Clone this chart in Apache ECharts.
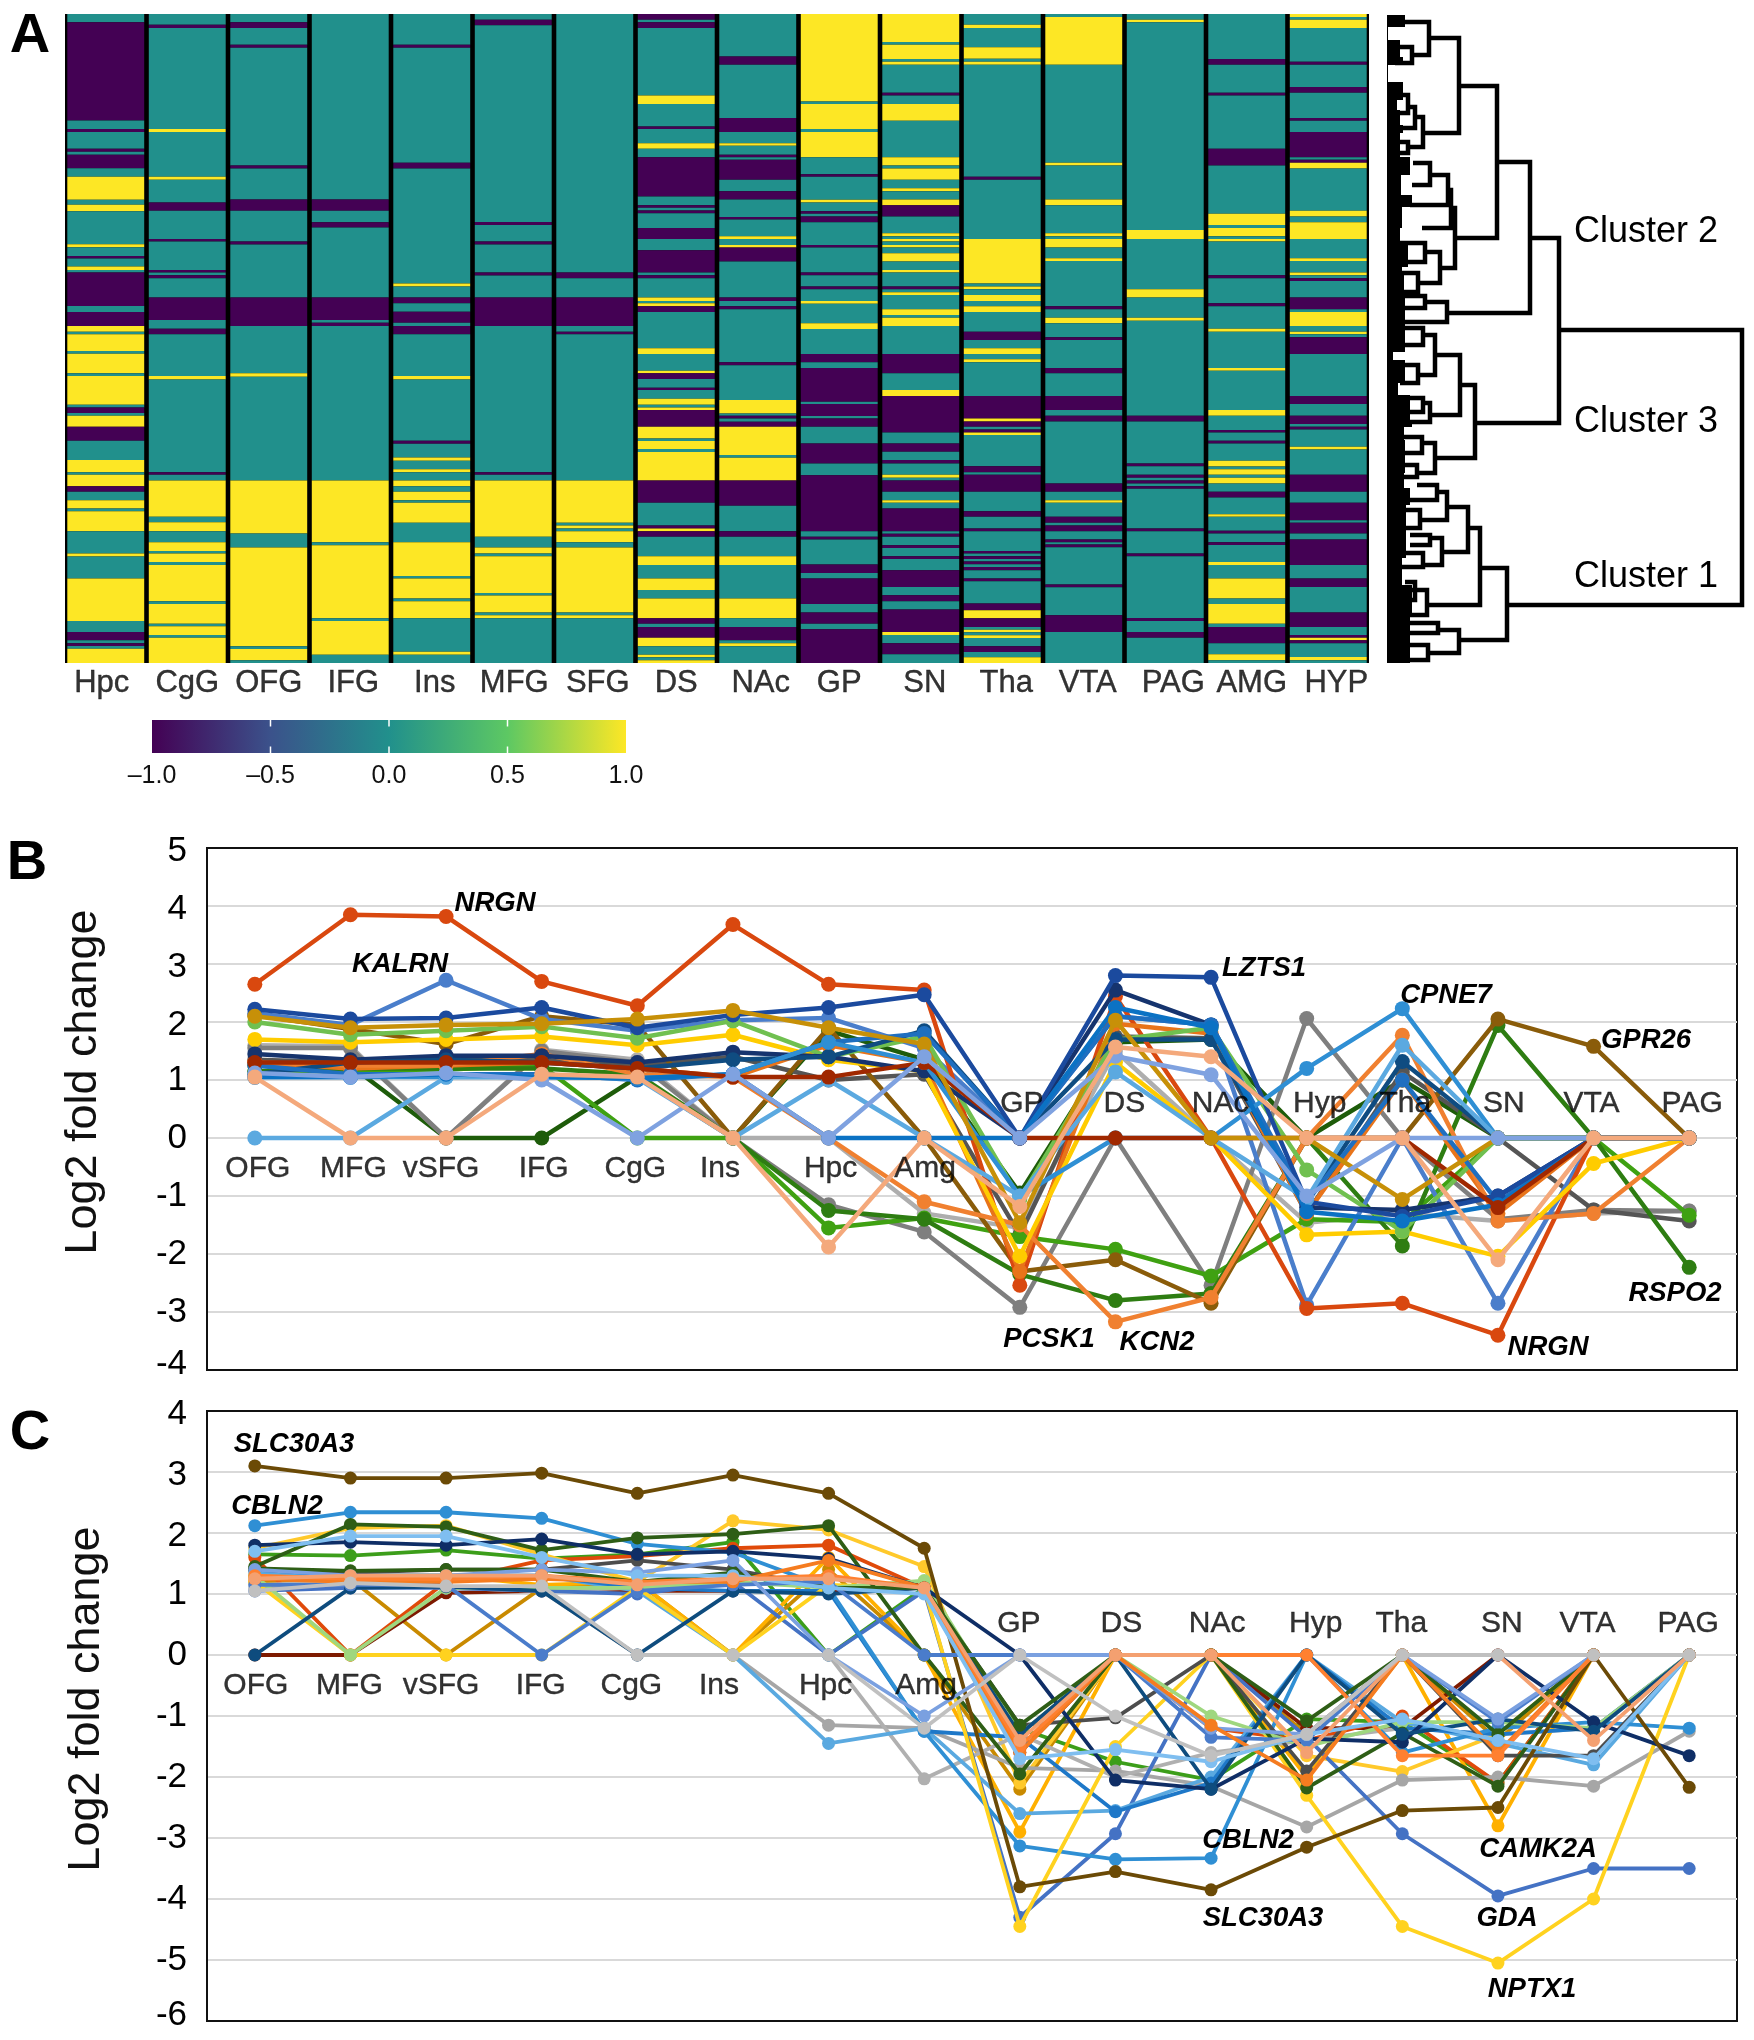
<!DOCTYPE html>
<html><head><meta charset="utf-8">
<style>html,body{margin:0;padding:0;background:#fff}#c{width:1754px;height:2040px}</style>
<script src="https://cdn.jsdelivr.net/npm/echarts@6/dist/echarts.min.js"></script>
</head><body><div id="c"></div>
<script>
// ---------- Panel A: heat map, runs of [value, end-of-run rank] down each column
const T=0,P=-1,Y=1;
const heatColumns=['Hpc','CgG','OFG','IFG','Ins','MFG','SFG','DS','NAc','GP','SN','Tha','VTA','PAG','AMG','HYP'];
const heatLabelNudge=[-4,0,0,3,3,1,3,0,3,0,4,4,4,8,5,8];
const rankStart=43, rankEnd=1988;
const runHpc=[T,68,P,362,T,388,P,397,T,447,P,456,T,465,P,505,T,531,Y,600,T,615,Y,634,T,733,Y,742,T,768,P,776,T,800,Y,810,T,818,P,918,T,936,P,978,Y,995,T,1003,Y,1053,T,1061,Y,1120,T,1128,Y,1214,T,1222,P,1239,T,1247,Y,1280,P,1322,T,1380,Y,1416,T,1424,Y,1458,P,1475,T,1500,Y,1525,T,1533,Y,1593,T,1660,Y,1669,T,1735,Y,1862,T,1895,P,1920,T,1929,P,1937,T,1945,Y,1988];
const runCgG=[T,75,P,85,T,388,Y,397,T,531,Y,540,T,608,P,633,T,717,P,725,T,810,P,818,T,826,P,835,T,893,P,960,T,986,P,1003,T,1128,Y,1138,T,1416,P,1424,T,1441,Y,1550,T,1566,Y,1593,T,1626,Y,1652,T,1660,Y,1685,T,1694,Y,1803,T,1811,Y,1870,T,1878,Y,1904,T,1912,Y,1988];
const runOFG=[T,68,P,85,T,135,P,144,T,497,P,506,T,599,P,633,T,725,P,734,T,893,P,978,T,1120,Y,1130,T,1441,Y,1600,T,1642,Y,1938,T,1946,Y,1980,T,1988];
const runIFG=[T,599,P,633,T,667,P,683,T,893,P,960,T,968,P,978,T,1441,Y,1626,T,1635,Y,1854,T,1862,Y,1963,T,1988];
const runIns=[T,135,P,144,T,489,P,506,T,851,Y,860,T,893,P,910,T,935,P,968,T,978,P,1003,T,1128,Y,1138,T,1322,P,1331,T,1372,Y,1382,T,1407,Y,1416,T,1441,Y,1458,T,1475,Y,1500,T,1508,Y,1568,T,1626,Y,1727,T,1735,Y,1795,T,1803,Y,1854,T,1954,Y,1963,T,1988];
const runMFG=[T,60,P,77,T,666,P,675,T,725,P,734,T,818,P,827,T,893,P,978,T,1416,P,1424,T,1441,Y,1610,T,1642,Y,1660,T,1668,Y,1778,T,1786,Y,1837,T,1845,Y,1854,T,1988];
const runSFG=[T,818,P,835,T,893,P,978,T,995,P,1003,T,1441,Y,1568,T,1576,Y,1585,T,1593,Y,1626,T,1642,Y,1837,T,1845,Y,1854,T,1988];
const runDS=[P,60,T,68,P,85,T,287,Y,313,T,380,P,388,T,430,Y,447,T,472,P,590,T,616,P,624,T,632,P,640,T,684,P,717,T,751,P,818,T,826,P,835,T,893,Y,903,T,910,Y,919,P,936,T,1045,Y,1062,T,1112,Y,1120,P,1137,T,1163,P,1170,T,1196,Y,1214,T,1222,Y,1230,P,1280,Y,1315,T,1323,Y,1347,T,1356,Y,1441,P,1508,T,1576,P,1585,Y,1593,P,1610,T,1668,Y,1694,T,1735,Y,1769,T,1795,Y,1854,P,1870,T,1880,P,1912,Y,1938,T,1963,Y,1971,T,1980,Y,1988];
const runNAc=[T,170,P,195,T,355,P,397,T,430,Y,438,T,465,P,472,T,480,P,540,T,574,P,599,T,651,P,659,T,709,Y,717,T,735,Y,743,P,785,T,893,P,903,T,919,P,928,T,1087,P,1096,T,1200,Y,1240,T,1247,P,1255,T,1265,P,1280,Y,1365,T,1373,Y,1441,P,1517,T,1593,P,1610,T,1668,Y,1694,T,1795,Y,1854,T,1880,P,1920,T,1929,Y,1938,T,1988];
const runGP=[Y,305,T,313,Y,388,T,397,Y,472,T,523,P,531,T,600,Y,608,T,634,P,642,T,650,P,667,T,735,P,743,T,818,P,826,T,860,P,868,T,903,Y,911,T,970,Y,987,T,1062,P,1087,T,1104,P,1205,T,1212,P,1248,T,1255,P,1280,T,1330,P,1390,T,1425,P,1593,T,1610,P,1618,T,1693,P,1718,T,1735,P,1811,T,1837,P,1870,T,1887,P,1988];
const runSN=[Y,127,T,135,Y,178,T,186,Y,195,T,279,P,287,T,313,Y,363,T,472,Y,497,T,506,Y,540,T,565,Y,574,T,599,Y,616,P,650,T,700,Y,709,T,717,Y,725,T,735,Y,743,T,760,Y,785,T,810,Y,818,T,860,P,868,T,877,Y,885,T,928,Y,945,T,953,Y,978,T,1062,P,1120,T,1170,Y,1188,P,1297,T,1330,P,1355,T,1380,P,1390,T,1424,Y,1433,T,1441,P,1475,T,1500,Y,1508,T,1525,P,1593,T,1601,P,1610,T,1635,P,1643,T,1668,P,1676,T,1710,P,1760,T,1785,P,1803,T,1828,P,1895,Y,1904,T,1929,P,1962,T,1988];
const runTha=[T,75,Y,85,T,143,Y,177,T,186,Y,195,T,531,P,540,T,717,Y,851,T,860,Y,868,T,885,Y,903,T,919,Y,936,T,995,P,1020,T,1045,Y,1062,T,1078,Y,1087,T,1188,P,1255,Y,1264,P,1280,T,1288,P,1297,Y,1305,T,1398,P,1416,T,1424,P,1475,T,1533,P,1550,T,1585,P,1593,T,1652,P,1660,T,1668,P,1676,T,1684,P,1692,T,1700,P,1710,T,1735,P,1743,T,1810,P,1830,Y,1854,P,1880,T,1888,Y,1896,T,1905,Y,1913,T,1938,P,1955,T,1971,Y,1988];
const runVTA=[T,52,Y,195,T,489,Y,497,T,599,Y,616,T,700,Y,709,T,717,Y,743,T,775,Y,783,T,919,P,928,T,953,Y,970,T,1012,P,1020,T,1104,P,1120,T,1188,P,1230,T,1247,P,1264,T,1450,P,1475,T,1500,Y,1508,T,1550,P,1568,T,1576,P,1593,T,1618,P,1626,T,1633,P,1641,T,1753,P,1761,T,1845,P,1895,T,1988];
const runPAG=[T,60,Y,68,T,690,Y,717,T,868,Y,893,T,953,Y,962,T,1247,P,1264,T,1390,P,1398,T,1424,P,1433,T,1441,P,1450,T,1458,P,1466,T,1585,P,1593,T,1660,P,1668,T,1853,P,1862,T,1895,P,1912,T,1988];
const runAMG=[T,178,P,195,T,279,P,287,T,447,P,497,T,642,Y,675,T,684,Y,709,T,717,Y,725,T,826,P,835,T,910,P,919,T,986,Y,995,T,1104,Y,1112,T,1230,Y,1247,T,1290,P,1297,T,1322,P,1330,T,1382,Y,1399,T,1407,Y,1424,T,1433,Y,1450,T,1475,P,1492,T,1542,Y,1550,T,1592,P,1600,T,1626,P,1634,T,1685,Y,1694,T,1735,Y,1795,T,1811,Y,1870,T,1880,P,1929,T,1962,Y,1980,T,1988];
const runHYP=[Y,52,T,60,Y,85,T,186,P,195,T,262,P,279,T,355,P,363,T,397,P,472,T,480,P,489,Y,506,T,633,Y,650,T,667,Y,717,T,775,Y,783,T,818,Y,826,T,835,P,843,T,893,P,928,T,936,Y,978,T,995,Y,1003,T,1012,P,1062,T,1188,P,1212,T,1247,P,1272,T,1280,P,1288,T,1340,Y,1348,T,1424,P,1475,T,1508,P,1560,T,1568,P,1600,T,1618,P,1694,T,1735,P,1760,T,1837,P,1880,T,1904,P,1912,Y,1920,P,1929,T,1970,Y,1980,T,1988];
const heatRuns=[runHpc,runCgG,runOFG,runIFG,runIns,runMFG,runSFG,runDS,runNAc,runGP,runSN,runTha,runVTA,runPAG,runAMG,runHYP];
const legendTicks=[-1,-0.5,0,0.5,1];
const legendColors=['#440154','#3B528B','#21908C','#5DC863','#FDE725'];

// ---------- Panel A: dendrogram merges [left end of top arm, y top, merge height, y bottom, left end of bottom arm]
const dendroMerges=[
 [1559,330,1742,605,1507],[1530,238,1559,423,1475],[1497,162,1530,313,1447],[1459,86,1497,238,1455],[1429,38,1459,133,1423],
 [1400,22,1429,55,1412],[1395,47,1412,63,1395],[1415,117,1423,147,1408],[1408,107,1415,128,1400],[1395,95,1408,113,1395],[1395,142,1408,153,1395],
 [1451,208,1455,268,1440],[1448,190,1451,228,1422],[1430,175,1448,205,1410],[1413,163,1430,185,1412],[1425,252,1440,283,1418],[1400,243,1425,262,1405],[1400,273,1418,292,1400],
 [1425,302,1447,322,1400],[1400,296,1425,308,1400],
 [1460,385,1475,458,1435],[1435,355,1460,415,1430],[1423,335,1435,375,1418],[1400,328,1423,345,1400],[1400,365,1418,383,1400],[1423,403,1430,422,1400],[1400,398,1423,412,1400],
 [1422,443,1435,473,1417],[1400,437,1422,453,1400],[1400,465,1417,477,1400],
 [1480,568,1507,640,1459],[1468,528,1480,605,1427],[1447,507,1468,552,1442],[1437,492,1447,520,1420],[1417,485,1437,500,1405],[1405,510,1420,528,1405],
 [1430,538,1442,565,1423],[1410,535,1430,545,1410],[1405,553,1423,567,1400],[1400,590,1427,615,1405],[1405,582,1415,600,1405],
 [1438,630,1459,653,1428],[1410,623,1438,633,1410],[1410,645,1428,660,1410]
];
// [rank from, rank to, leaf reach]
const leafRuns=[[15,27,1405],[27,40,1388],[40,57,1400],[57,65,1403],[65,82,1388],[82,100,1403],[100,110,1397],[110,125,1400],[125,133,1403],[133,157,1400],[157,175,1410],
 [175,195,1401],[195,207,1412],[207,228,1402],[228,242,1400],[242,267,1408],[267,275,1402],[275,292,1404],[292,340,1405],
 [340,352,1405],[352,360,1393],[360,383,1405],[383,395,1398],[395,420,1410],[420,427,1412],[427,440,1404],[440,473,1405],[473,488,1404],[488,505,1410],
 [505,538,1406],[538,558,1406],[558,585,1402],[585,615,1412],[615,663,1410]];

// ---------- Panels B and C
const regions=['OFG','MFG','vSFG','IFG','CgG','Ins','Hpc','Amg','GP','DS','NAc','Hyp','Tha','SN','VTA','PAG'];
const labelNudgeB=[3,3,-5,2,-2,-13,2,1,2,9,9,13,3,6,-2,3];
const labelNudgeC=[1,-1,-5,-1,-6,-14,-3,2,-1,6,6,9,-1,4,-6,-1];
const b_dkgreen=[1.25,1.25,0,0,1.05,0,1.85,1.35,-0.95,1.65,1.7,0,1.0,0,0,0];
const b_darkred=[1.3,1.3,1.3,1.3,1.2,1.05,1.05,1.3,0,0,0,0,0,-1.2,0,0];
const b_ltgrey=[1.6,1.58,0,1.52,1.35,0,0,-1.3,-1.55,1.5,0,-1.46,-1.3,-1.43,-1.3,-1.26];
const b_PCSK1=[1.55,1.55,0,1.5,1.3,0,-1.15,-1.62,-2.92,0,-2.54,2.06,0,-1.4,-1.24,-1.26];
const b_dkgrey=[1.35,1.3,1.4,1.35,1.25,1.4,1.0,1.1,-1.67,1.75,1.72,-1.3,1.14,0,-1.24,-1.43];
const b_green2=[1.15,1.15,1.18,1.25,0,0,-1.55,-1.38,-1.7,-1.92,-2.38,-1.4,-1.45,0,0,-1.33];
const b_RSPO2=[1.15,1.2,1.2,1.2,1.1,0,-1.25,-1.4,-2.35,-2.8,-2.68,0,-1.86,1.94,0,-2.23];
const b_GPR26=[2.12,1.88,1.62,2.1,1.95,0,1.9,0,-2.3,-2.1,-2.85,0,0,2.05,1.58,0];
const b_KALRN=[2.15,1.95,2.72,2.05,1.85,2.03,2.07,1.55,0,2.1,1.95,-2.88,0,-2.85,0,0];
const b_NRGN=[2.65,3.85,3.82,2.7,2.28,3.68,2.65,2.55,-2.54,2.44,0,-2.94,-2.85,-3.4,0,0];
const b_orange2=[1.3,1.2,1.25,1.3,1.2,1.05,1.6,1.3,-2.3,1.97,1.8,-1.3,1.0,-1.3,0,0];
const b_KCN2=[1.3,1.25,1.25,1.45,1.1,1.05,0,-1.1,-1.5,-3.17,-2.75,0,1.77,-1.43,-1.3,0];
const b_yellow=[1.7,1.65,1.7,1.75,1.6,1.78,1.35,1.15,-2.04,1.3,0,-1.67,-1.61,-2.04,-0.44,0];
const b_green3=[2.0,1.78,1.85,1.92,1.72,2.02,1.4,1.75,-1.05,1.69,1.9,-0.55,-1.61,0,0,0];
const b_navy=[1.45,1.35,1.42,1.42,1.3,1.48,1.4,1.15,0,2.55,1.95,-1.2,-1.24,-1.0,0,0];
const b_teal=[1.1,1.3,1.35,1.3,1.2,1.35,1.4,1.85,0,1.7,1.7,-1.1,1.32,0,0,0];
const b_blue3=[1.25,1.1,1.1,1.1,1.0,1.1,1.65,1.8,0,2.1,1.95,-1.1,1.0,-1.1,0,0];
const b_LZTS1=[2.22,2.05,2.07,2.25,1.9,2.12,2.25,2.47,0,2.8,2.77,-1.1,-1.35,-1.0,0,0];
const b_CPNE7=[1.05,1.05,1.05,1.05,1.03,1.1,1.65,1.3,-1.0,0,0,1.2,2.23,0,0,0];
const b_ltblue=[0,0,1.05,1.05,1.03,0,1.0,0,-1.0,1.14,0,-1.05,1.6,0,0,0];
const b_steel=[1.05,1.05,1.1,1.05,1.03,1.1,0,0,0,2.25,1.9,-1.27,-1.43,-1.15,0,0];
const b_amber=[2.1,1.9,1.95,1.97,2.05,2.2,1.9,1.62,-1.46,2.03,0,0,-1.06,0,0,0];
const b_peri=[1.12,1.05,1.12,1.0,0,1.1,0,1.4,0,1.41,1.09,-1.0,0,0,0,0];
const b_salmon=[1.05,0,0,1.1,1.05,0,-1.88,0,-1.18,1.57,1.4,0,0,-2.1,0,0];
const linesB=[[b_dkgreen,'#1E5C0A'],[b_ltgrey,'#AEAEAE'],[b_PCSK1,'#7F7F7F'],[b_dkgrey,'#555555'],[b_green2,'#3FA112'],[b_RSPO2,'#2E7D12'],[b_GPR26,'#8A5C0A'],[b_KALRN,'#4A7ECB'],[b_NRGN,'#D9480F'],[b_orange2,'#E8741A'],[b_KCN2,'#F08030'],[b_yellow,'#FFCC00'],[b_green3,'#70C050'],[b_navy,'#16346E'],[b_teal,'#0F4C81'],[b_blue3,'#1F6FC0'],[b_LZTS1,'#1B4A9E'],[b_CPNE7,'#2F8FD4'],[b_ltblue,'#5BA9E0'],[b_steel,'#0B72C4'],[b_darkred,'#A02800'],[b_amber,'#C79008'],[b_peri,'#7FA2E0'],[b_salmon,'#F4A97C']];

const c_green=[1.65,1.63,1.72,1.58,1.65,1.85,0,1.1,-1.2,-1.75,-2.05,-1.05,-1.1,-2.1,0,0];
const c_amberdk=[1.2,1.25,0,1.1,1.2,0,1.4,0,-2.2,0,0,-1.3,0,-1.4,0,0];
const c_CAMK2A=[1.3,1.3,1.3,1.15,1.2,0,1.6,0,-2.9,0,0,-2.0,0,-2.8,0,0];
const c_darkred=[0,0,1.02,1.05,1.05,1.05,1.05,1.1,-1.6,0,0,-1.2,-1.2,0,0,0];
const c_orangered=[1.6,0,1.2,1.55,1.62,1.75,1.8,1.1,-1.55,0,-1.2,-1.4,-1.0,-2.1,0,0];
const c_yellow2=[1.75,2.08,2.12,1.65,1.2,2.2,2.05,1.45,-2.1,0,0,-1.65,-1.91,-1.3,0,0];
const c_grey1=[1.1,1.2,1.1,1.05,0,0,-1.15,-1.2,-1.85,-1.9,-2.15,-2.82,-2.05,-2.0,-2.15,-1.25];
const c_grey2=[1.15,1.2,1.1,1.05,1.1,0,0,-2.03,-1.3,-2.0,-1.6,-1.4,-1.2,-1.3,-1.2,0];
const c_GDA=[1.05,1.1,1.1,1.05,1.0,1.2,0,1.05,-4.3,-2.93,0,-1.35,-2.93,-3.95,-3.5,-3.5];
const c_sky=[1.35,1.3,1.3,1.3,1.05,0,-1.45,-1.2,-2.6,-2.55,-2.0,0,-1.1,-1.45,-1.8,0];
const c_blue2=[1.4,1.3,1.3,1.3,1.1,1.05,1.05,-1.25,-1.35,-2.57,-2.1,0,-1.2,-1.3,-1.2,0];
const c_CBLN2=[2.12,2.34,2.34,2.24,1.82,1.68,1.1,-1.25,-3.13,-3.35,-3.33,0,-1.6,-1.2,-1.1,-1.2];
const c_NPTX1=[1.2,0,0,0,1.1,0,1.15,1.1,-4.45,-1.5,0,-2.3,-4.45,-5.05,-4.0,0];
const c_dkgrey=[1.4,1.35,1.4,1.4,1.55,1.4,1.1,1.1,-1.15,-1.03,0,-1.9,0,-1.65,-1.65,0];
const c_ltgreen=[1.3,0,1.1,1.1,1.1,1.2,1.1,1.22,-1.3,0,-1.0,-1.5,-1.1,-1.1,-1.2,0];
const c_dkgreen=[1.45,2.14,2.1,1.72,1.92,1.98,2.12,0,-1.95,0,0,-2.18,-1.28,-2.15,0,0];
const c_dkgreen2=[1.42,1.38,1.4,1.4,1.2,1.35,1.1,1.1,-1.15,0,0,-1.08,0,-1.3,0,0];
const c_navy=[1.8,1.85,1.8,1.9,1.65,1.7,1.58,1.1,0,-2.05,-2.2,-1.37,-1.43,0,-1.1,-1.65];
const c_teal=[0,1.1,1.12,1.05,0,1.05,1.0,1.1,-1.3,0,-2.2,0,-1.3,-1.05,-1.25,0];
const c_SLC30A3=[3.1,2.9,2.9,2.98,2.65,2.95,2.65,1.75,-3.8,-3.55,-3.85,-3.15,-2.55,-2.5,0,-2.17];
const c_blue0=[1.15,1.15,1.15,0,1.05,1.15,1.2,0,0,0,-1.35,-1.4,0,-1.1,0,0];
const c_peri=[1.4,1.3,1.3,1.4,1.35,1.55,0,-1.0,0,0,-1.2,-1.3,0,-1.05,0,0];
const c_orange=[1.25,1.2,1.2,1.25,1.2,1.2,1.55,1.1,-1.6,0,-1.15,-2.05,0,-1.6,0,0];
const c_orange2=[1.3,1.25,1.25,1.3,1.2,1.25,1.3,1.1,-1.5,0,0,0,-1.65,-1.65,0,0];
const c_ltblue=[1.7,1.95,1.95,1.6,1.3,1.3,1.1,1.0,-1.7,-1.55,-1.75,-1.3,-1.05,-1.4,-1.7,0];
const c_salmon=[1.25,1.3,1.3,1.3,1.15,1.25,1.25,1.1,-1.4,0,0,-1.6,0,0,-1.4,0];
const c_ltgrey=[1.05,1.18,1.13,1.13,0,0,0,-1.2,0,-1.0,-1.65,-1.3,0,0,0,0];
const linesC=[[c_green,'#3C9E1A'],[c_amberdk,'#C98A00'],[c_CAMK2A,'#FFB000'],[c_darkred,'#7E1A00'],[c_orangered,'#E04A0A'],[c_yellow2,'#FFC92B'],[c_grey1,'#A6A6A6'],[c_grey2,'#B0B0B0'],[c_GDA,'#4472C4'],[c_sky,'#5AA9E0'],[c_blue2,'#1E78C8'],[c_CBLN2,'#2F8FD4'],[c_NPTX1,'#FFD21F'],[c_dkgrey,'#4D4D4D'],[c_ltgreen,'#9FD77F'],[c_dkgreen,'#2E5E16'],[c_navy,'#0F2E66'],[c_teal,'#0E4C7E'],[c_SLC30A3,'#6B4A06'],[c_dkgreen2,'#2E5E16'],[c_blue0,'#4A7CCB'],[c_peri,'#7AA0E0'],[c_orange,'#F57C20'],[c_orange2,'#FF8030'],[c_ltblue,'#7FBEF0'],[c_salmon,'#F4A070'],[c_ltgrey,'#C0C0C0']];

// ---------- text annotations
const geneLabels=[['NRGN',495,900],['KALRN',400,961],['LZTS1',1264,965],['CPNE7',1446,992],['GPR26',1646,1037],['RSPO2',1675,1290],['NRGN',1548,1344],['PCSK1',1049,1336],['KCN2',1157,1339],
 ['SLC30A3',294,1441],['CBLN2',277,1503],['CBLN2',1248,1837],['SLC30A3',1263,1915],['CAMK2A',1538,1846],['GDA',1507,1915],['NPTX1',1532,1986]];
const clusterLabels=[['Cluster 2',232],['Cluster 3',422],['Cluster 1',577]];
const panelLetters=[['A',30,37],['B',27,864],['C',30,1434]];
const yAxisTitles=[['Log2 fold change',84,1082],['Log2 fold change',87,1699]];

const FONT='"Liberation Sans",Arial,sans-serif';
const viridis=v=>legendColors[legendTicks.indexOf(v)];

// build heat segments
const heatSegments=[];
heatRuns.forEach((run,col)=>{let from=rankStart;for(let i=0;i<run.length;i+=2){heatSegments.push([col,from,run[i+1],run[i]]);from=run[i+1];}});

function lineSeries(list,xi,yi,sym,w){
  return list.map(([vals,col],k)=>({type:'line',xAxisIndex:xi,yAxisIndex:yi,data:vals,symbol:'circle',symbolSize:sym,showSymbol:true,
    lineStyle:{color:col,width:w},itemStyle:{color:col},z:3+k*0.01,silent:true,animation:false}));
}
const labelText={fontFamily:FONT,fontSize:30,color:'#000',textBorderColor:'#000',textBorderWidth:0.4};
function regionLabels(xi,yi,nudge,dBelow,dAbove){
  return {type:'scatter',xAxisIndex:xi,yAxisIndex:yi,symbolSize:1,itemStyle:{color:'transparent'},z:20,silent:true,
    data:regions.map((r,i)=>({value:[i,0],label:{show:true,formatter:r,position:i<8?'bottom':'top',distance:i<8?dBelow:dAbove,offset:[nudge[i],0],...labelText}}))};
}
const xCat=(g)=>({type:'category',gridIndex:g,data:regions,show:false,boundaryGap:true});
const tickRich={fontFamily:FONT,fontSize:35,color:'#000'};
const yVal=(g,min,max)=>({type:'value',gridIndex:g,min,max,interval:1,axisLine:{show:true,lineStyle:{color:'#111',width:2}},axisTick:{show:false},
  axisLabel:{margin:20,showMinLabel:true,showMaxLabel:true,color:'#000',...tickRich,
    formatter:v=>v===min?'{up|'+v+'}':(v>=2?'{dn|'+v+'}':'{n|'+v+'}'),
    rich:{up:{...tickRich,padding:[0,0,11,0]},dn:{...tickRich,padding:[6,0,0,0]},n:{...tickRich}}},
  splitLine:{show:true,showMinLine:false,showMaxLine:false,lineStyle:{color:'#d9d9d9',width:2}}});

const option={animation:false,backgroundColor:'#fff',
 grid:[
  {left:65,top:14,width:1304,height:649,show:true,backgroundColor:'#000',borderWidth:0},
  {left:152,top:720,width:474,height:33},
  {left:1380,top:14,width:374,height:649},
  {left:207,top:848,width:1530,height:522,show:true,borderColor:'#111',borderWidth:2},
  {left:207,top:1411,width:1530,height:610,show:true,borderColor:'#111',borderWidth:2}
 ],
 xAxis:[
  {type:'category',gridIndex:0,data:heatColumns,axisLine:{show:false},axisTick:{show:false},splitLine:{show:false},axisLabel:{show:false}},
  {type:'value',gridIndex:1,min:-1,max:1,interval:0.5,axisLine:{show:false},axisTick:{show:false},splitLine:{show:false},
   axisLabel:{fontFamily:FONT,fontSize:25,color:'#111',margin:11,showMinLabel:true,showMaxLabel:true,formatter:v=>(v<0?'\u2013':'')+Math.abs(v).toFixed(1)}},
  {type:'value',gridIndex:2,min:1380,max:1754,show:false},
  xCat(3),xCat(4)
 ],
 yAxis:[
  {type:'value',gridIndex:0,min:rankStart,max:rankEnd,inverse:true,show:false},
  {type:'value',gridIndex:1,min:0,max:1,show:false},
  {type:'value',gridIndex:2,min:14,max:663,inverse:true,show:false},
  yVal(3,-4,5),yVal(4,-6,4)
 ],
 series:[
  {type:'custom',xAxisIndex:0,yAxisIndex:0,data:heatSegments,encode:{x:0,y:[1,2]},silent:true,z:2,
   renderItem(p,api){
     const a=api.coord([api.value(0),api.value(1)]),b=api.coord([api.value(0),api.value(2)]);
     const bw=api.size([1,0])[0];
     return {type:'rect',shape:{x:a[0]-bw/2+2.3,y:a[1],width:bw-4.6,height:b[1]-a[1]},style:{fill:viridis(api.value(3))}};
   }},
  {type:'scatter',xAxisIndex:0,yAxisIndex:0,symbolSize:1,itemStyle:{color:'transparent'},z:20,silent:true,clip:false,
   data:heatColumns.map((c,i)=>({value:[i,rankEnd],label:{show:true,formatter:c,position:'bottom',distance:4,offset:[heatLabelNudge[i],0],...labelText,fontSize:31}}))},
  {type:'custom',xAxisIndex:1,yAxisIndex:1,data:[[-1,1]],encode:{x:[0,1]},silent:true,z:2,
   renderItem(p,api){
     const L=api.coord([api.value(0),0]),R=api.coord([api.value(1),1]);
     const H=api.coord([-1,0])[1]-api.coord([-1,1])[1];
     const kids=[{type:'rect',shape:{x:L[0],y:R[1],width:R[0]-L[0],height:H},
       style:{fill:new echarts.graphic.LinearGradient(0,0,1,0,legendColors.map((c,i)=>({offset:(legendTicks[i]+1)/2,color:c})))}}];
     legendTicks.slice(1,-1).forEach(t=>{const x=api.coord([t,0])[0];
       kids.push({type:'line',shape:{x1:x,y1:R[1],x2:x,y2:R[1]+6.5},style:{stroke:'#fff',lineWidth:1.5}});
       kids.push({type:'line',shape:{x1:x,y1:L[1]-6.5,x2:x,y2:L[1]},style:{stroke:'#fff',lineWidth:1.5}});});
     return {type:'group',children:kids};
   }},
  {type:'custom',xAxisIndex:2,yAxisIndex:2,data:leafRuns,encode:{y:[0,1],x:2},silent:true,z:2,
   renderItem(p,api){
     const a=api.coord([1387,api.value(0)]),b=api.coord([api.value(2),api.value(1)]);
     return {type:'rect',shape:{x:a[0],y:a[1],width:b[0]-a[0],height:b[1]-a[1]},style:{fill:'#000'}};
   }},
  {type:'custom',xAxisIndex:2,yAxisIndex:2,data:dendroMerges,encode:{x:[0,2,4],y:[1,3]},silent:true,z:3,
   renderItem(p,api){
     const pts=[api.coord([api.value(0),api.value(1)]),api.coord([api.value(2),api.value(1)]),api.coord([api.value(2),api.value(3)]),api.coord([api.value(4),api.value(3)])];
     return {type:'polyline',shape:{points:pts},style:{stroke:'#000',lineWidth:4.5,fill:null,lineJoin:'miter'}};
   }},
  ...lineSeries(linesB,3,3,15,4.5),
  regionLabels(3,3,labelNudgeB,15,19),
  ...lineSeries(linesC,4,4,13,3.8),
  regionLabels(4,4,labelNudgeC,15,16)
 ],
 graphic:[
  ...geneLabels.map(([t,x,y])=>({type:'text',x,y:y+3,z:100,style:{text:t,fill:'#000',font:'italic bold 27.5px "Liberation Sans",Arial,sans-serif',textAlign:'center',textVerticalAlign:'middle'}})),
  ...clusterLabels.map(([t,y])=>({type:'text',x:1574,y,z:100,style:{text:t,fill:'#000',font:'36px "Liberation Sans",Arial,sans-serif',textAlign:'left',textVerticalAlign:'middle'}})),
  ...panelLetters.map(([t,x,y])=>({type:'text',x,y,z:100,style:{text:t,fill:'#000',font:'bold 56px "Liberation Sans",Arial,sans-serif',textAlign:'center',textVerticalAlign:'middle'}})),
  ...yAxisTitles.map(([t,x,y])=>({type:'text',x,y,rotation:Math.PI/2,z:100,style:{text:t,fill:'#111',font:'45px "Liberation Sans",Arial,sans-serif',textAlign:'center',textVerticalAlign:'middle'}}))
 ]
};
echarts.init(document.getElementById('c'),null,{renderer:'canvas'}).setOption(option);
</script></body></html>
